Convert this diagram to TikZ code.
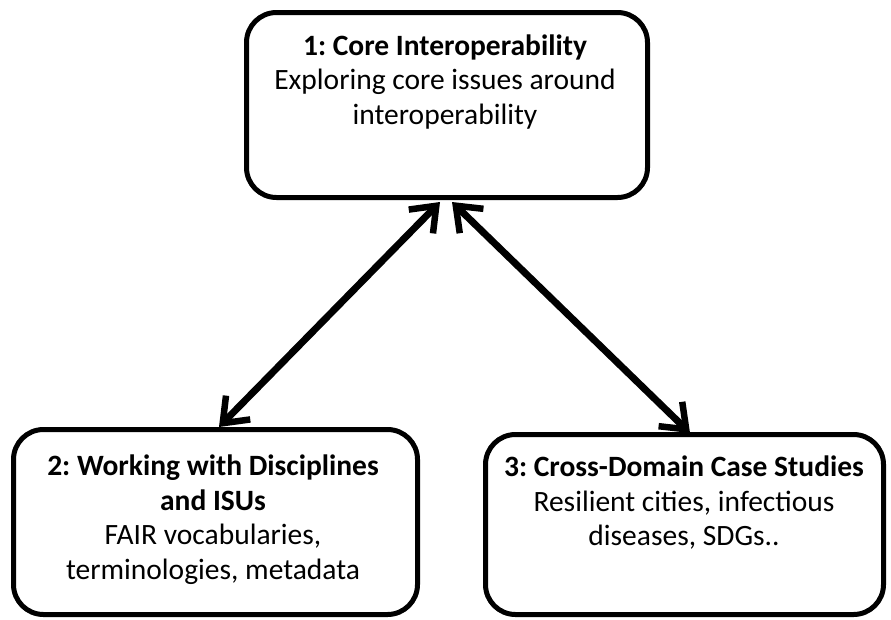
\documentclass[tikz,border=0pt]{standalone}
\usepackage{fontspec}
\setmainfont{Carlito}
\usetikzlibrary{arrows.meta}
\frenchspacing
\tikzset{
  boxstyle/.style={draw=black, line width=5pt, rounded corners=30pt, fill=white, inner sep=0pt},
  txtstyle/.style={align=center, font=\fontsize{29.5}{34.5}\selectfont, inner sep=0pt},
  barb/.tip={Straight Barb[length=22pt,width=34pt,line width=6.5pt]},
  arr/.style={line width=7pt, barb-barb}
}
\begin{document}
\begin{tikzpicture}[x=1pt,y=-1pt]
\useasboundingbox (0,0) rectangle (891,619);
\node[boxstyle, minimum width=401pt, minimum height=185pt] (b1) at (447,105) {};
\node[boxstyle, minimum width=404pt, minimum height=185pt] (b2) at (215.5,522) {};
\node[boxstyle, minimum width=398pt, minimum height=180pt] (b3) at (684.5,524.5) {};
\node[txtstyle] (t1) at (445,82) {\textbf{1: Core Interoperability}\\Exploring core issues around\\interoperability};
\node[txtstyle] (t2) at (213,519.5) {\textbf{2: Working with Disciplines}\\\textbf{and ISUs}\\FAIR vocabularies,\\terminologies, metadata};
\node[txtstyle] (t3) at (684,503) {\textbf{3: Cross-Domain Case Studies}\\Resilient cities, infectious\\diseases, SDGs..};
\draw[arr] ([xshift=-7pt,yshift=-2pt]b1.south) -- ([xshift=3.5pt,yshift=0pt]b2.north);
\draw[arr] ([xshift=5pt,yshift=-2pt]b1.south) -- ([xshift=5.5pt,yshift=-1pt]b3.north);
\end{tikzpicture}
\end{document}
